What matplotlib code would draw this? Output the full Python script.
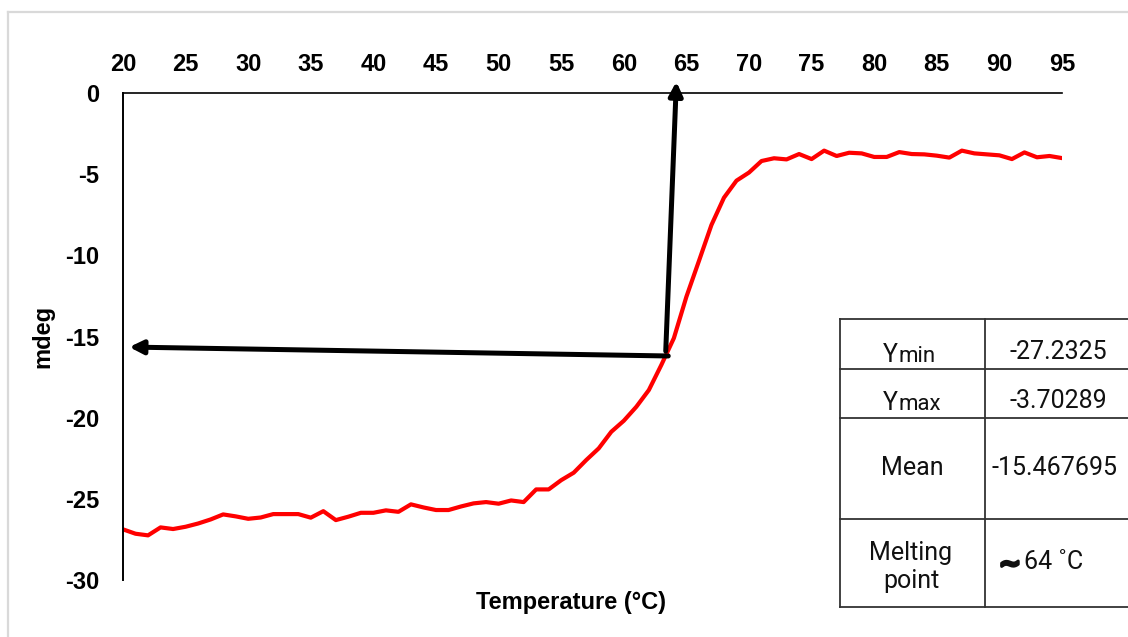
import matplotlib
matplotlib.use('Agg')
import matplotlib.pyplot as plt
import matplotlib.patheffects as pe
from matplotlib.lines import Line2D

plt.rcParams['axes.unicode_minus'] = False

# CD melting curve, one reading per degree
temps = list(range(20, 96))
mdeg = [-26.88, -27.15, -27.25, -26.76, -26.86, -26.72, -26.52, -26.27, -25.96, -26.08,
        -26.23, -26.15, -25.94, -25.94, -25.94, -26.16, -25.76, -26.31, -26.10, -25.86,
        -25.86, -25.71, -25.80, -25.34, -25.53, -25.69, -25.69, -25.47, -25.28, -25.20,
        -25.30, -25.10, -25.20, -24.42, -24.42, -23.85, -23.39, -22.61, -21.89, -20.87,
        -20.19, -19.33, -18.30, -16.75, -15.10, -12.55, -10.35, -8.13, -6.45, -5.40,
        -4.90, -4.19, -4.02, -4.09, -3.76, -4.07, -3.55, -3.88, -3.68, -3.72,
        -3.94, -3.94, -3.64, -3.76, -3.78, -3.86, -3.98, -3.55, -3.72, -3.78,
        -3.84, -4.07, -3.66, -3.96, -3.88, -4.01]

xticks = list(range(20, 96, 5))
yticks = [0, -5, -10, -15, -20, -25, -30]

# arrows marking the melting point
melt_arrow_up = ((63.35, -15.9), (64.2, 0.7))
melt_arrow_left = ((63.55, -16.2), (20.5, -15.65))

# summary table
row_names = [("Y", "min"), ("Y", "max"), ("Mean", ""), ("Melting\npoint", "")]
row_values = ["-27.2325", "-3.70289", "-15.467695", "64 \u02daC"]

W, H = 1128, 637
fig = plt.figure(figsize=(W / 100, H / 100), dpi=100)


def fx(px):
    return px / W


def fy(py):
    return 1 - py / H


ax = fig.add_axes([fx(123), fy(580), fx(1062) - fx(123), fy(93) - fy(580)])
ax.plot(temps, mdeg, color='#ff0000', lw=3, solid_joinstyle='round')
ax.set_xlim(20, 95)
ax.set_ylim(-30, 0)
ax.set_xticks(xticks)
ax.set_yticks(yticks)
ax.xaxis.tick_top()
ax.tick_params(axis='x', length=0, pad=12, labelsize=17)
ax.tick_params(axis='y', length=0, pad=17, labelsize=17)
for lab in ax.get_xticklabels() + ax.get_yticklabels():
    lab.set_fontweight('bold')
    lab.set_fontfamily('Liberation Sans')
for s in ['bottom', 'right']:
    ax.spines[s].set_visible(False)
ax.spines['top'].set_linewidth(1.2)
ax.spines['left'].set_linewidth(1.4)
ax.patch.set_visible(False)

fig.text(fx(571), fy(603), "Temperature (\u00b0C)", ha='center', va='center',
         fontsize=17, fontweight='bold', family='Liberation Sans')
fig.text(fx(43), fy(336), "mdeg", ha='center', va='center', rotation=90,
         fontsize=17, fontweight='bold', family='Liberation Sans')

for (base, tip) in [melt_arrow_up, melt_arrow_left]:
    ax.annotate('', xy=tip, xytext=base, annotation_clip=False,
                arrowprops=dict(arrowstyle='-|>', lw=3.6, color='black',
                                mutation_scale=20, shrinkA=0, shrinkB=0))

# light frame around the chart area
fig.add_artist(Line2D([fx(8), fx(8)], [fy(12), fy(H + 5)], color='#d9d9d9', lw=1.6))
fig.add_artist(Line2D([fx(8), fx(W + 5)], [fy(12), fy(12)], color='#d9d9d9', lw=1.6))

# table drawn by hand, it runs off the right edge
tl, tmid, tr = 839.5, 984.5, 1140
rows_y = [319, 369, 417.5, 519, 607]
lc = '#333333'
for y in rows_y:
    fig.add_artist(Line2D([fx(tl), fx(tr)], [fy(y), fy(y)], color=lc, lw=1.3))
for x in [tl, tmid]:
    fig.add_artist(Line2D([fx(x), fx(x)], [fy(rows_y[0]), fy(rows_y[-1])], color=lc, lw=1.3))

tc = '#111111'
tfont = dict(family='Roboto', fontsize=18, color=tc)
sfont = dict(family='Roboto', fontsize=16, color=tc)
fig.text(fx(898), fy(362), row_names[0][0], ha='right', va='baseline', **tfont)
fig.text(fx(899), fy(362), row_names[0][1], ha='left', va='baseline', **sfont)
fig.text(fx(898), fy(410), row_names[1][0], ha='right', va='baseline', **tfont)
fig.text(fx(899), fy(410), row_names[1][1], ha='left', va='baseline', **sfont)
fig.text(fx(912), fy(468), row_names[2][0], ha='center', va='center', **tfont)
fig.text(fx(911), fy(567), row_names[3][0], ha='center', va='center',
         linespacing=1.25, **tfont)

fig.text(fx(1058), fy(352), row_values[0], ha='center', va='center', **tfont)
fig.text(fx(1058), fy(401), row_values[1], ha='center', va='center', **tfont)
fig.text(fx(1054), fy(468), row_values[2], ha='center', va='center', **tfont)
fig.text(fx(1021), fy(565), "\u223c", ha='right', va='center', family='DejaVu Sans',
         fontsize=19, fontweight='bold', color=tc,
         path_effects=[pe.withStroke(linewidth=2.2, foreground=tc)])
fig.text(fx(1024), fy(562), row_values[3], ha='left', va='center', **tfont)

fig.savefig('out.png', dpi=100)
